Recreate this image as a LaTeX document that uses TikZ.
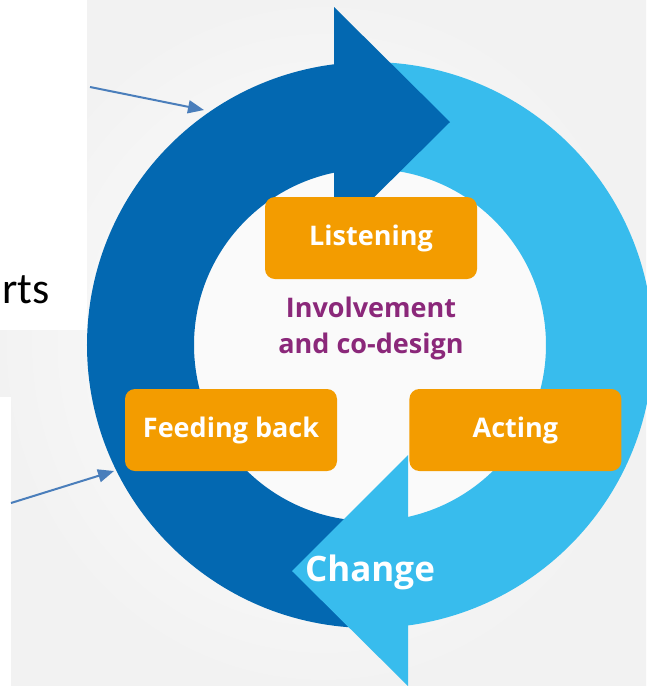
\documentclass[tikz,border=0pt]{standalone}
\usepackage{fontspec}
\setmainfont{Open Sans}
\newfontfamily\slidefont{Carlito}
\usetikzlibrary{positioning,arrows.meta}
\definecolor{ringdark}{RGB}{3,104,177}
\definecolor{ringlight}{RGB}{56,188,237}
\definecolor{stageorange}{RGB}{243,156,0}
\definecolor{codesignpurple}{RGB}{139,40,122}
\definecolor{pointerblue}{RGB}{74,126,187}
\tikzstyle{stage} = [rectangle, rounded corners=10pt, minimum width=212pt,
    minimum height=82pt, inner sep=0pt, fill=stageorange, text=white,
    font=\fontsize{27}{32}\selectfont\bfseries]
\tikzstyle{pointer} = [line width=2pt, draw=pointerblue,
    -{Triangle[length=16pt,width=13pt]}]
\tikzstyle{shaft} = [line width=107pt]

\begin{document}
\begin{tikzpicture}[x=1pt,y=1pt]
\useasboundingbox (0,0) rectangle (646,-686);

% ── Backdrop ────
\shade[inner color=white, outer color=black!5] (0,0) rectangle (646,-686);
\fill[white] (0,0) rectangle (87,-330);
\fill[white] (0,-397) rectangle (11,-686);

% ── Cycle ring ────
\coordinate (hub) at (370,-345);
\fill[white!98!black] (hub) circle[radius=176];
\draw[shaft, ringlight] (hub) ++(-90:229.5) arc[start angle=-90, end angle=90, radius=229.5];
\draw[shaft, ringdark] (hub) ++(90:229.5) arc[start angle=90, end angle=270, radius=229.5];
\fill[ringdark] (334,-7) -- (450,-122) -- (334,-237) -- cycle;
\fill[ringlight] (408,-455) -- (292,-571) -- (408,-686) -- cycle;

% ── Stages ────
\node[stage] (listening) at (371,-238) {Listening};
\node[stage] (feedback) at (231,-430) {Feeding back};
\node[stage, right=72pt of feedback] (acting) {Acting};
\node[below=14pt of listening, align=center, text=codesignpurple,
    font=\fontsize{27}{36}\selectfont\bfseries] (codesign) {Involvement\\and co-design};
\node[text=white, font=\fontsize{35}{40}\selectfont\bfseries] (change) at (370,-572) {Change};

% ── Slide text ────
\node[anchor=base east, inner sep=0pt, font=\slidefont\fontsize{44}{52}\selectfont] (rtslabel) at (50,-303) {rts};

% ── Pointers ────
\coordinate (topsrc) at (90,-87);
\coordinate (toptip) at (204,-110);
\coordinate (lowsrc) at (11,-503);
\coordinate (lowtip) at (114,-471);
\draw[pointer] (topsrc) -- (toptip);
\draw[pointer] (lowsrc) -- (lowtip);

\end{tikzpicture}
\end{document}
